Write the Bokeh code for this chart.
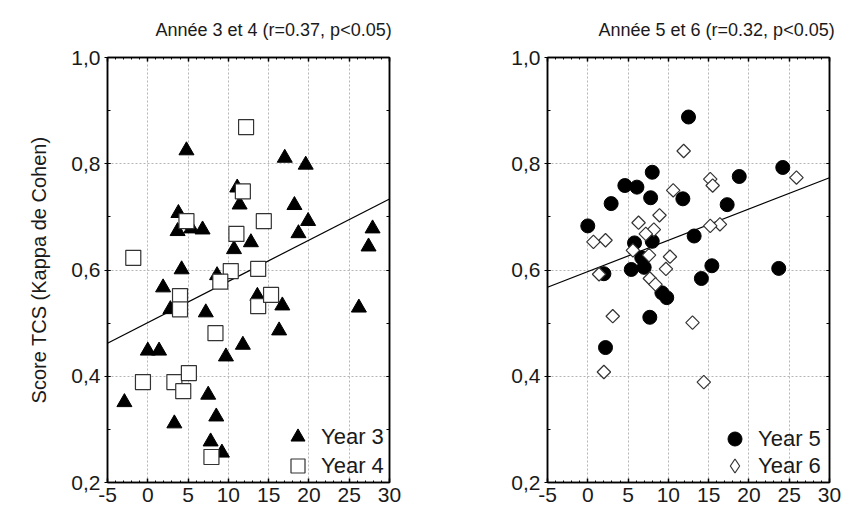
import numpy as np
from bokeh.plotting import figure
from bokeh.layouts import row
from bokeh.models import (Range1d, FixedTicker, LinearAxis, Legend, LegendItem,
                          CustomJSTickFormatter)
from bokeh.embed import file_html
from bokeh.resources import INLINE

# ---------------- data ----------------
titles = ["Année 3 et 4 (r=0.37, p<0.05)", "Année 5 et 6 (r=0.32, p<0.05)"]
y_label = "Score TCS (Kappa de Cohen)"

x_ticks = [-5, 0, 5, 10, 15, 20, 25, 30]
x_minor = list(range(-5, 31))
y_ticks = [0.2, 0.4, 0.6, 0.8, 1.0]
y_minor = [0.2, 0.3, 0.4, 0.5, 0.6, 0.7, 0.8, 0.9, 1.0]

# Year 3 (filled triangles)
x3 = [4.8, 17.0, 19.6, 11.1, 11.4, 18.2, 3.8, 3.7, 5.4, 6.8, 19.9, 18.7, 12.8,
      10.7, 27.9, 27.4, 4.2, 1.9, 8.6, 2.8, 7.2, 13.6, 16.7, 16.3, 11.8, 9.7,
      0.0, 1.4, -2.9, 3.3, 7.5, 8.5, 7.8, 9.2, 26.2]
y3 = [0.825, 0.811, 0.798, 0.755, 0.723, 0.722, 0.707, 0.673, 0.678, 0.676,
      0.692, 0.669, 0.652, 0.639, 0.678, 0.644, 0.601, 0.567, 0.590, 0.526,
      0.520, 0.551, 0.533, 0.486, 0.459, 0.437, 0.448, 0.448, 0.351, 0.311,
      0.365, 0.324, 0.277, 0.256, 0.529]

# Year 4 (open squares)
x4 = [12.2, 11.8, 4.8, 14.4, 11.0, -1.8, 10.3, 13.7, 9.0, 4.0, 4.0, 13.7,
      15.3, 8.4, -0.6, 3.3, 5.1, 4.4, 7.9]
y4 = [0.869, 0.748, 0.692, 0.692, 0.668, 0.623, 0.598, 0.602, 0.578, 0.551,
      0.526, 0.532, 0.553, 0.481, 0.389, 0.389, 0.406, 0.372, 0.248]

# Year 5 (filled circles)
x5 = [12.5, 24.2, 8.0, 18.8, 4.6, 6.1, 7.8, 11.8, 2.9, 17.3, 0.0, 13.2, 5.8,
      8.0, 6.7, 5.4, 7.0, 2.0, 14.1, 15.4, 23.7, 9.2, 9.8, 7.7, 2.2]
y5 = [0.888, 0.793, 0.784, 0.776, 0.759, 0.756, 0.736, 0.734, 0.725, 0.723,
      0.683, 0.664, 0.651, 0.654, 0.623, 0.601, 0.605, 0.593, 0.584, 0.608,
      0.603, 0.557, 0.548, 0.511, 0.454]

# Year 6 (open diamonds)
x6 = [11.9, 25.9, 15.2, 15.5, 10.6, 8.9, 6.3, 8.2, 7.2, 16.4, 15.2, 0.7, 2.2,
      5.6, 7.6, 10.2, 9.7, 1.4, 7.7, 8.4, 3.1, 13.0, 2.0, 14.4]
y6 = [0.824, 0.774, 0.771, 0.759, 0.750, 0.703, 0.689, 0.676, 0.668, 0.686,
      0.683, 0.653, 0.656, 0.637, 0.628, 0.625, 0.602, 0.592, 0.584, 0.573,
      0.513, 0.501, 0.408, 0.389]

# regression lines (intercept, slope)
fit_left = (0.501, 0.00776)
fit_right = (0.597, 0.00589)

FONT = "Liberation Sans"
TXT = "#1a1a1a"
X_RANGE = (-5, 30)
Y_RANGE = (0.2, 1.0)
H = 510


def make_panel(title, width, border_left, border_right, title_offset, ylab):
    p = figure(width=width, height=H, output_backend="svg",
               toolbar_location=None, title=title,
               x_range=Range1d(*X_RANGE), y_range=Range1d(*Y_RANGE),
               min_border_left=border_left, min_border_right=border_right,
               min_border_top=57, min_border_bottom=28)
    p.background_fill_color = "white"
    p.border_fill_color = "white"
    p.outline_line_color = "black"
    p.outline_line_width = 1.5

    p.title.text_font = FONT
    p.title.text_font_size = "18px"
    p.title.text_font_style = "normal"
    p.title.text_color = TXT
    p.title.align = "left"
    p.title.offset = title_offset
    p.title.standoff = 35

    yfmt = CustomJSTickFormatter(code="return tick.toFixed(1).replace('.', ',');")
    xfmt = CustomJSTickFormatter(code="return String(tick);")
    blank = CustomJSTickFormatter(code="return '';")

    xt = FixedTicker(ticks=x_ticks, minor_ticks=x_minor)
    yt = FixedTicker(ticks=y_ticks, minor_ticks=y_minor)

    ax = p.xaxis[0]
    ax.ticker = xt
    ax.formatter = xfmt
    ax.major_tick_in = 4
    ax.major_tick_out = 0
    ax.minor_tick_in = 2
    ax.minor_tick_out = 0
    ax.axis_line_width = 1.5
    ax.major_tick_line_width = 1.5
    ax.major_label_text_font = FONT
    ax.major_label_text_font_size = "21px"
    ax.major_label_text_color = TXT
    ax.major_label_standoff = 5

    ay = p.yaxis[0]
    ay.ticker = yt
    ay.formatter = yfmt
    ay.major_tick_in = 3
    ay.major_tick_out = 3
    ay.minor_tick_in = 3
    ay.minor_tick_out = 0
    ay.axis_line_width = 1.5
    ay.major_label_text_font = FONT
    ay.major_label_text_font_size = "21px"
    ay.major_label_text_color = TXT
    ay.major_label_standoff = 4
    if ylab:
        ay.axis_label = ylab
        ay.axis_label_text_font = FONT
        ay.axis_label_text_font_size = "20px"
        ay.axis_label_text_font_style = "normal"
        ay.axis_label_text_color = TXT
        ay.axis_label_standoff = 18

    top = LinearAxis(ticker=xt, formatter=blank, major_tick_in=4,
                     major_tick_out=0, minor_tick_in=2, minor_tick_out=0,
                     axis_line_width=1.5, major_tick_line_width=1.5,
                     major_label_text_font_size="1px", major_label_standoff=0)
    right = LinearAxis(ticker=yt, formatter=blank, major_tick_in=3,
                       major_tick_out=0, minor_tick_in=3, minor_tick_out=0,
                       axis_line_width=1.5,
                       major_label_text_font_size="1px", major_label_standoff=0)
    p.add_layout(top, "above")
    p.add_layout(right, "right")

    for g in (p.xgrid[0], p.ygrid[0]):
        g.grid_line_color = "#b5b5b5"
        g.grid_line_dash = "2 2"
        g.grid_line_width = 1
    p.xgrid[0].ticker = xt
    p.ygrid[0].ticker = yt
    return p


def fit_line(p, fit):
    a, b = fit
    xs = np.array(X_RANGE, dtype=float)
    p.line(xs, a + b * xs, line_color="black", line_width=1.2)


def legend_entry(p, label, renderer, x, y):
    lg = Legend(items=[LegendItem(label=label, renderers=[renderer])],
                location=(x, y), glyph_width=35, glyph_height=35,
                label_standoff=6, label_text_font=FONT,
                label_text_font_size="22px", label_text_color=TXT,
                padding=0, margin=0, border_line_alpha=0,
                background_fill_alpha=0)
    p.add_layout(lg)


# ---------------- left panel ----------------
p1 = make_panel(titles[0], 438, 107, 49, 48, y_label)
fit_line(p1, fit_left)
r3 = p1.scatter(x3, y3, marker="triangle", size=15, fill_color="black",
                line_color="black")
r4 = p1.scatter(x4, y4, marker="square", size=15, fill_color="white",
                line_color="#333333", line_width=1.2)
legend_entry(p1, "Year 3", r3, 173, 28)
legend_entry(p1, "Year 4", r4, 173, -1)

# ---------------- right panel ----------------
p2 = make_panel(titles[1], 421, 109, 30, 51, None)
fit_line(p2, fit_right)
r5 = p2.scatter(x5, y5, marker="circle", size=14, fill_color="black",
                line_color="black")
r6 = p2.scatter(x6, y6, marker="square", angle=np.pi / 4, size=9.5,
                fill_color="white", line_color="#333333", line_width=1.2)
# legend-only swatch for the diamonds (legend glyphs are drawn unrotated)
r6_key = p2.scatter(np.array([np.nan]), np.array([np.nan]), marker="diamond",
                    size=14, fill_color="white", line_color="#333333",
                    line_width=1.2)
legend_entry(p2, "Year 5", r5, 170, 26)
legend_entry(p2, "Year 6", r6_key, 170, -1)

layout = row(p1, p2)
open("out.html", "w").write(file_html(layout, INLINE))
